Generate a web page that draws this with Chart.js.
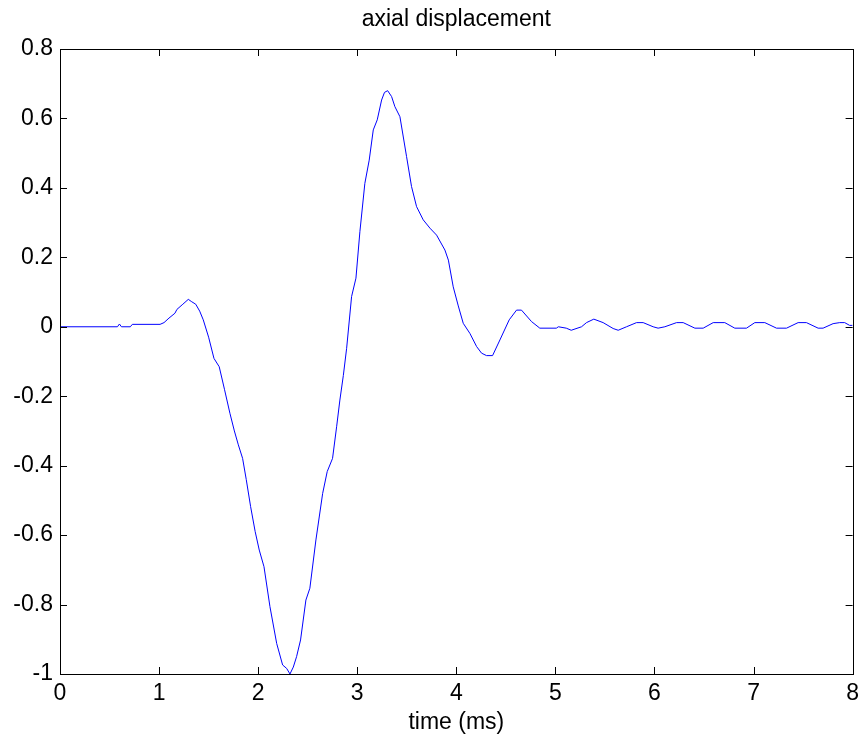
<!DOCTYPE html>
<html>
<head>
<meta charset="utf-8">
<script src="https://cdn.jsdelivr.net/npm/chart.js@4/dist/chart.umd.min.js"></script>
<style>
  html, body { margin: 0; padding: 0; background: #fff; }
  #wrap { width: 865px; height: 742px; }
</style>
</head>
<body>
<div id="wrap"><canvas id="chart" width="865" height="742"></canvas></div>
<script>
// data
const time = [0, 0.58, 0.6, 0.62, 0.71, 0.73, 1.01, 1.05, 1.1, 1.16, 1.18, 1.24, 1.295, 1.33, 1.37, 1.41, 1.446, 1.5, 1.554, 1.607,
  1.66, 1.715, 1.76, 1.8, 1.843, 1.88, 1.924, 1.97, 2.011, 2.059, 2.119, 2.187, 2.247, 2.288, 2.321, 2.355, 2.388, 2.428, 2.482, 2.522,
  2.583, 2.651, 2.697, 2.751, 2.792, 2.825, 2.86, 2.893, 2.943, 2.987, 3.027, 3.077, 3.121, 3.162, 3.202, 3.246, 3.275, 3.307, 3.347, 3.38,
  3.431, 3.498, 3.548, 3.599, 3.666, 3.734, 3.801, 3.885, 3.92, 3.969, 4.02, 4.07, 4.137, 4.205, 4.255, 4.305, 4.366, 4.44, 4.534, 4.608,
  4.658, 4.759, 4.843, 5.01, 5.03, 5.11, 5.16, 5.264, 5.314, 5.388, 5.482, 5.583, 5.634, 5.718, 5.819, 5.886, 5.987, 6.037, 6.105, 6.223,
  6.29, 6.408, 6.492, 6.593, 6.71, 6.811, 6.929, 7.013, 7.114, 7.232, 7.333, 7.45, 7.534, 7.652, 7.702, 7.803, 7.87, 7.92, 7.97, 8];
const displacement = [0, 0, 0.008, 0, 0, 0.007, 0.007, 0.012, 0.025, 0.039, 0.05, 0.065, 0.079, 0.072, 0.065, 0.045, 0.02, -0.03, -0.091, -0.115,
  -0.18, -0.249, -0.3, -0.34, -0.379, -0.44, -0.518, -0.59, -0.643, -0.691, -0.806, -0.912, -0.974, -0.984, -1.0, -0.98, -0.95, -0.902, -0.787, -0.753,
  -0.614, -0.48, -0.417, -0.379, -0.288, -0.211, -0.14, -0.062, 0.087, 0.14, 0.274, 0.413, 0.48, 0.567, 0.596, 0.653, 0.675, 0.68, 0.663, 0.634,
  0.605, 0.49, 0.404, 0.346, 0.308, 0.284, 0.264, 0.221, 0.192, 0.115, 0.06, 0.01, -0.019, -0.057, -0.076, -0.083, -0.083, -0.038, 0.02, 0.048,
  0.048, 0.015, -0.004, -0.004, 0, -0.004, -0.01, 0, 0.012, 0.022, 0.012, -0.005, -0.01, 0, 0.012, 0.012, 0, -0.004, 0, 0.012,
  0.012, -0.004, -0.004, 0.012, 0.012, -0.004, -0.004, 0.012, 0.012, -0.004, -0.004, 0.012, 0.012, -0.004, -0.004, 0.009, 0.012, 0.012, 0.004, 0.004];

const xTicks = [0, 1, 2, 3, 4, 5, 6, 7, 8];
const yTicks = [-1, -0.8, -0.6, -0.4, -0.2, 0, 0.2, 0.4, 0.6, 0.8];
const chartTitle = 'axial displacement';

const points = time.map((t, i) => ({ x: t, y: displacement[i] }));
const FONT = { family: 'Liberation Sans, Arial, sans-serif', size: 23 };

// box around the plot, inward tick marks (matlab style) and the title centred on the axes
const boxPlugin = {
  id: 'box',
  afterDraw(chart) {
    const { ctx, chartArea: a, scales } = chart;
    const len = 7;
    ctx.save();
    ctx.strokeStyle = '#000';
    ctx.lineWidth = 1;
    ctx.strokeRect(Math.round(a.left) + 0.5, Math.round(a.top) + 0.5,
      Math.round(a.right - a.left), Math.round(a.bottom - a.top));
    ctx.beginPath();
    xTicks.forEach(v => {
      const px = Math.round(scales.x.getPixelForValue(v)) + 0.5;
      ctx.moveTo(px, a.bottom); ctx.lineTo(px, a.bottom - len);
      ctx.moveTo(px, a.top); ctx.lineTo(px, a.top + len);
    });
    yTicks.forEach(v => {
      const py = Math.round(scales.y.getPixelForValue(v)) + 0.5;
      ctx.moveTo(a.left, py); ctx.lineTo(a.left + len, py);
      ctx.moveTo(a.right, py); ctx.lineTo(a.right - len, py);
    });
    ctx.stroke();

    ctx.fillStyle = '#000';
    ctx.font = `${FONT.size}px ${FONT.family}`;
    ctx.textAlign = 'center';
    ctx.textBaseline = 'middle';
    ctx.fillText(chartTitle, (a.left + a.right) / 2, 20);
    ctx.restore();
  }
};

new Chart(document.getElementById('chart'), {
  type: 'scatter',
  data: {
    datasets: [{
      data: points,
      showLine: true,
      borderColor: '#0000ff',
      borderWidth: 1,
      pointRadius: 0,
      tension: 0
    }]
  },
  options: {
    responsive: false,
    animation: false,
    layout: { padding: { top: 49, right: 12, bottom: 0, left: 0 } },
    plugins: {
      legend: { display: false },
      tooltip: { enabled: false },
      title: { display: false }
    },
    scales: {
      x: {
        type: 'linear',
        min: 0, max: 8,
        afterBuildTicks: s => { s.ticks = xTicks.map(v => ({ value: v })); },
        afterFit: s => { s.height = 68; },
        grid: { display: false, drawTicks: false },
        border: { display: false },
        ticks: { color: '#000', font: FONT, padding: 6, maxRotation: 0 },
        title: { display: true, text: 'time (ms)', color: '#000', font: FONT, padding: { top: 0, bottom: 6 } }
      },
      y: {
        type: 'linear',
        min: -1, max: 0.8,
        afterBuildTicks: s => { s.ticks = yTicks.map(v => ({ value: v })); },
        afterFit: s => { s.width = 60; },
        grid: { display: false, drawTicks: false },
        border: { display: false },
        ticks: { color: '#000', font: FONT, padding: 7, callback: v => String(Number(v.toFixed(1))) }
      }
    }
  },
  plugins: [boxPlugin]
});
</script>
</body>
</html>
